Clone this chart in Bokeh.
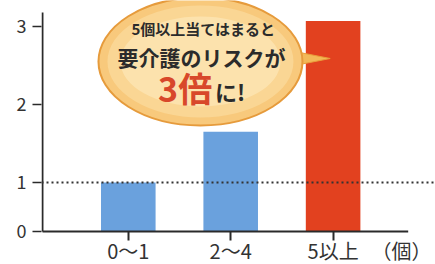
from bokeh.plotting import figure
from bokeh.models import FixedTicker, Span
from bokeh.core.properties import value
from bokeh.embed import file_html
from bokeh.resources import INLINE

# ---- data ----
categories = ["0〜1", "2〜4", "5以上"]
risk = [1.0, 1.65, 3.07]
bar_colors = ["#6aa1dd", "#6aa1dd", "#e2411f"]
y_tick_values = [1, 2, 3]
unit_label = "（個）"
callout_lines = ["5個以上当てはまると", "要介護のリスクが", "3倍", "に!"]

FONT = value("Noto Sans CJK JP")

xpos = [i + 1 for i in range(len(categories))]
axis_floor = 0.3718  # truncated axis start, labelled "0"
unit_pos = 3.667

x_start, x_end = 0.15238, 4.0
y_start, y_end = -0.05128, 3.3333

p = figure(width=435, height=264, output_backend="svg", toolbar_location=None,
           x_range=(x_start, x_end), y_range=(y_start, y_end),
           min_border_left=41, min_border_right=0, min_border_top=0,
           min_border_bottom=0, outline_line_color=None,
           background_fill_color="white", border_fill_color="white")
p.grid.visible = False


def px(xp, yp):
    return 1 + (xp - 130) / 105.0, 1 + (182 - yp) / 78.0


# ---- bars ----
p.vbar(x=xpos, top=risk, bottom=axis_floor, width=0.533, fill_color=bar_colors, line_color=None)

# reference line at 1
p.add_layout(Span(location=1, dimension="width", line_color="#333333",
                  line_dash="2 3", line_width=1.8))

# axis lines (baseline and vertical axis)
ax_x, ax_top = px(42, 12)
end_x, _ = px(417, 231)
p.segment(x0=[ax_x, ax_x], y0=[axis_floor, axis_floor], x1=[end_x, ax_x], y1=[axis_floor, ax_top],
          line_color="#2a2a2a", line_width=2)

# ---- callout bubble (drawn over the bars, tail reaching into the red bar) ----
tx, ty = zip(px(285, 48), px(285, 68), px(337, 58))
p.patch(list(tx), list(ty), fill_color="#f3b858", line_color="#e99e3a", line_width=1)

bx, by = px(204, 61)
p.ellipse(x=[bx], y=[by], width=204, height=128, width_units="screen", height_units="screen",
          fill_color="#f8c97c", line_color="#e69b3c", line_width=2)
p.ellipse(x=[bx], y=[by], width=186, height=112, width_units="screen", height_units="screen",
          fill_color="#fad694", line_color=None)
p.ellipse(x=[bx], y=[by], width=160, height=90, width_units="screen", height_units="screen",
          fill_color="#fce2ad", line_color=None)

# callout texts
x1, y1 = px(207, 28)
p.text(x=[x1], y=[y1], text=[callout_lines[0]], text_font=FONT, text_font_style="bold",
       text_font_size="15px", text_color="#2b2b2b", text_align="center", text_baseline="middle")
x2, y2 = px(205, 57)
p.text(x=[x2], y=[y2], text=[callout_lines[1]], text_font=FONT, text_font_style="bold",
       text_font_size="21px", text_color="#2b2b2b", text_align="center", text_baseline="middle")
x3, y3 = px(216, 87)
p.text(x=[x3], y=[y3], text=[callout_lines[2]], text_font=FONT, text_font_style="bold",
       text_font_size="34px", text_color="#d8482a", text_align="right", text_baseline="middle")
x4, y4 = px(219, 91)
p.text(x=[x4], y=[y4], text=[callout_lines[3]], text_font=FONT, text_font_style="bold",
       text_font_size="22px", text_color="#2b2b2b", text_align="left", text_baseline="middle")

# ---- axes ----
ya = p.yaxis[0]
ya.ticker = FixedTicker(ticks=[axis_floor] + y_tick_values)
ya.major_label_overrides = {axis_floor: "0", **{v: str(v) for v in y_tick_values}}
ya.major_label_text_font = "Noto Sans CJK JP"
ya.major_label_text_font_size = "18px"
ya.major_label_text_color = "#333333"
ya.axis_line_color = None
ya.major_tick_in = 0
ya.major_tick_out = 9
ya.major_tick_line_color = "#2a2a2a"
ya.major_tick_line_width = 1.5
ya.minor_tick_line_color = None
ya.major_label_standoff = 6

xa = p.xaxis[0]
xa.fixed_location = axis_floor
xa.ticker = FixedTicker(ticks=xpos + [unit_pos], minor_ticks=xpos)
xa.major_label_overrides = {**{x: c for x, c in zip(xpos, categories)}, unit_pos: unit_label}
xa.major_label_text_font = "Noto Sans CJK JP"
xa.major_label_text_font_size = "20px"
xa.major_label_text_color = "#333333"
xa.axis_line_color = None
xa.major_tick_in = 0
xa.major_tick_out = 0
xa.major_tick_line_color = None
xa.minor_tick_in = 0
xa.minor_tick_out = 9
xa.minor_tick_line_color = "#2a2a2a"
xa.minor_tick_line_width = 2
xa.major_label_standoff = -4

open("out.html", "w").write(file_html(p, INLINE))
